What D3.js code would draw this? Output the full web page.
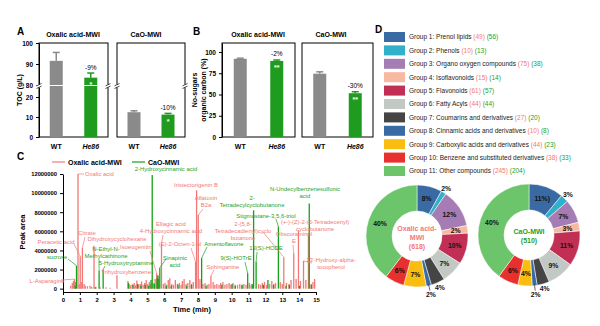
<!DOCTYPE html>
<html>
<head>
<meta charset="utf-8">
<script src="https://cdn.jsdelivr.net/npm/d3@7"></script>
<style>
body { margin: 0; background: #fff; }
svg { display: block; font-family: "Liberation Sans", Arial, sans-serif; }
</style>
</head>
<body>
<svg id="fig" width="600" height="326"></svg>
<script>
// ---- data ----
var groupsAB = ["WT", "He86"];

// panel A: TOC (g/L)
var tocOxalic = [91.5, 83.5];
var tocOxalicErr = [4.0, 2.2];
var tocCaO = [12.4, 11.2];
var tocCaOErr = [0.7, 0.6];
var tocTicks = [0, 10, 20, 80, 90, 100];

// panel B: no-sugars organic carbon (%)
var nsOxalic = [92.0, 89.5];
var nsOxalicErr = [0.7, 1.1];
var nsCaO = [74.5, 51.5];
var nsCaOErr = [2.2, 1.8];
var nsTicks = [0, 25, 50, 75, 100];

// panel C: peaks [time (min), peak area]
var oxalicPeaks = [
  [0.45, 0.3e6], [0.55, 0.6e6], [0.62, 0.8e6], [0.68, 1.0e6], [0.74, 0.7e6],
  [0.89, 12.0e6], [0.96, 0.5e6], [1.02, 3.4e6], [1.08, 0.7e6], [1.15, 4.3e6],
  [1.25, 0.5e6], [1.32, 0.3e6], [1.45, 0.25e6], [1.6, 0.3e6], [1.7, 0.2e6],
  [1.84, 4.5e6], [1.95, 0.2e6], [2.2, 0.15e6], [2.55, 0.15e6], [2.8, 0.1e6],
  [3.2, 1.4e6], [3.85, 0.8e6], [3.92, 0.5e6], [4.0, 0.35e6], [4.1, 0.45e6],
  [4.22, 0.6e6], [4.3, 0.35e6], [4.38, 0.85e6], [4.48, 0.45e6], [4.58, 0.5e6],
  [4.66, 0.75e6], [4.75, 0.4e6], [4.84, 0.6e6], [4.93, 0.9e6], [5.02, 0.5e6],
  [5.12, 0.7e6], [5.2, 0.45e6], [5.38, 0.6e6], [5.46, 1.0e6], [5.55, 1.6e6],
  [5.62, 1.3e6], [5.84, 4.7e6], [5.95, 0.5e6], [6.05, 0.6e6], [6.15, 0.4e6],
  [6.24, 0.9e6], [6.33, 1.1e6], [6.45, 0.5e6], [6.55, 0.4e6], [6.66, 0.9e6],
  [6.78, 0.5e6], [6.9, 0.6e6], [7.0, 0.4e6], [7.08, 0.8e6], [7.18, 1.0e6],
  [7.3, 0.5e6], [7.4, 0.6e6], [7.52, 0.9e6], [7.62, 0.5e6], [7.72, 0.7e6],
  [7.86, 2.8e6], [7.92, 10.3e6], [8.02, 7.7e6], [8.12, 1.0e6], [8.3, 0.5e6],
  [8.42, 0.6e6], [8.55, 0.4e6], [8.65, 0.5e6], [8.77, 1.35e6], [8.9, 0.7e6],
  [9.0, 0.4e6], [9.12, 0.5e6], [9.25, 0.4e6], [9.35, 0.6e6], [9.48, 0.7e6],
  [9.6, 0.4e6], [9.72, 0.5e6], [9.85, 0.6e6], [9.95, 0.4e6], [10.08, 0.6e6],
  [10.2, 0.4e6], [10.35, 0.4e6], [10.48, 0.5e6], [10.6, 0.35e6], [10.72, 0.5e6],
  [10.85, 0.4e6], [11.05, 0.6e6], [11.15, 0.4e6], [11.6, 0.5e6], [11.72, 0.4e6],
  [11.82, 0.6e6], [11.95, 0.7e6], [12.08, 0.4e6], [12.25, 0.5e6], [12.38, 0.8e6],
  [12.5, 0.5e6], [12.6, 0.6e6], [12.88, 0.7e6], [13.0, 0.5e6], [13.09, 3.3e6],
  [13.25, 0.6e6], [13.4, 0.5e6], [13.52, 0.9e6], [13.68, 3.7e6], [13.82, 1.0e6],
  [13.96, 6.1e6], [14.08, 0.8e6], [14.26, 2.9e6], [14.4, 0.9e6], [14.55, 5.8e6],
  [14.72, 0.5e6], [14.82, 0.7e6], [14.92, 1.0e6]
];
var caoPeaks = [
  [0.72, 0.3e6], [0.8, 2.4e6], [1.9, 0.15e6], [2.14, 1.9e6], [2.38, 2.0e6],
  [3.88, 0.6e6], [4.15, 0.4e6], [4.42, 0.5e6], [4.62, 0.3e6], [4.88, 0.4e6],
  [5.08, 0.3e6], [5.22, 0.9e6], [5.29, 11.9e6], [5.42, 0.5e6], [5.58, 1.1e6],
  [5.63, 1.4e6], [5.68, 1.0e6], [5.74, 2.2e6], [6.12, 0.3e6], [6.42, 0.3e6],
  [6.82, 0.4e6], [7.32, 0.3e6], [7.62, 0.4e6], [8.22, 3.2e6], [8.48, 0.3e6],
  [9.42, 0.4e6], [10.02, 0.5e6], [10.22, 0.3e6], [10.62, 0.4e6], [10.95, 1.6e6],
  [11.22, 0.5e6], [11.3, 8.2e6], [11.45, 2.85e6], [11.88, 0.4e6], [12.15, 0.9e6],
  [12.48, 0.4e6], [12.77, 6.5e6], [13.22, 0.3e6], [13.42, 0.4e6], [14.02, 0.3e6],
  [14.6, 8.9e6], [14.72, 0.4e6]
];
var peakTicks = [0, 2e6, 4e6, 6e6, 8e6, 10e6, 12e6];

// panel D: compound groups and counts
var groupNames = ["Prenol lipids", "Phenols", "Organo oxygen compounds", "Isoflavonoids",
  "Flavonoids", "Fatty Acyls", "Coumarins and derivatives", "Cinnamic acids and derivatives",
  "Carboxylic acids and derivatives", "Benzene and substituted derivatives", "Other compounds"];
var countOxalic = [49, 10, 75, 15, 61, 44, 27, 10, 44, 38, 245];
var countCaO = [56, 13, 38, 14, 57, 44, 20, 8, 23, 33, 204];
var pctOxalic = ["8%", "2%", "12%", "2%", "10%", "7%", "4%", "2%", "7%", "6%", "40%"];
var pctCaO = ["11%)", "3%", "7%", "3%", "11%", "9%", "4%", "2%", "4%", "6%", "40%"];

// ---- styles ----
var GRAY = "#8a8a8a", GREEN = "#1f9b1f";
var SALMON = "#f27878", LGREEN = "#1e9f2a";
var groupColors = ["#3a6aa3", "#31b0c9", "#a57cb4", "#f7b9a1", "#c12f55", "#c2c8c4",
  "#454545", "#3a6aa3", "#f8bd10", "#e8302e", "#6cc46b"];

var svg = d3.select("#fig");

function txt(g, x, y, s, size, opt) {
  opt = opt || {};
  return g.append("text").attr("x", x).attr("y", y).text(s)
    .attr("font-size", size)
    .attr("font-weight", opt.weight || "normal")
    .attr("font-style", opt.style || "normal")
    .attr("text-anchor", opt.anchor || "middle")
    .attr("fill", opt.fill || "#000");
}

function styleAxis(a, size) {
  a.selectAll("path, line").attr("stroke", "#000").attr("stroke-width", 1);
  a.selectAll("text").attr("font-size", size).attr("font-weight", "bold")
    .attr("font-family", "Liberation Sans, Arial, sans-serif");
}

// a pair of bars with error bars inside a framed box
function barPanel(x0, x1, y, vals, errs, notes, stars) {
  var g = svg.append("g");
  var x = d3.scalePoint().domain(groupsAB).range([x0, x1]).padding(0.5);
  g.append("rect").attr("x", x0).attr("y", 43).attr("width", x1 - x0).attr("height", 94)
    .attr("fill", "none").attr("stroke", "#000").attr("stroke-width", 1);
  groupsAB.forEach(function(k, i) {
    var cx = x(k), col = i ? GREEN : GRAY;
    var top = y(vals[i] + errs[i]);
    g.append("line").attr("x1", cx).attr("x2", cx).attr("y1", y(vals[i])).attr("y2", top)
      .attr("stroke", col).attr("stroke-width", 1.5);
    g.append("line").attr("x1", cx - 3.5).attr("x2", cx + 3.5).attr("y1", top).attr("y2", top)
      .attr("stroke", col).attr("stroke-width", 1.5);
    g.append("rect").attr("x", cx - 6.5).attr("y", y(vals[i])).attr("width", 13)
      .attr("height", y(0) - y(vals[i])).attr("fill", col);
    if (notes[i]) txt(g, cx, top - 3.5, notes[i], 6.5);
    if (stars[i]) txt(g, cx, y(vals[i]) + 9, stars[i], 7, {fill: "#fff", weight: "bold"});
    txt(g, cx, 149, k, 7, {weight: "bold", style: i ? "italic" : "normal"});
  });
  return g;
}

function breakMark(x, y) {
  svg.append("rect").attr("x", x - 2.5).attr("y", y - 1.5).attr("width", 5).attr("height", 3).attr("fill", "#fff");
  [-1.3, 1.3].forEach(function(d) {
    svg.append("line").attr("x1", x - 2.5).attr("x2", x + 2.5).attr("y1", y + d + 1.2).attr("y2", y + d - 1.2)
      .attr("stroke", "#000").attr("stroke-width", 0.7);
  });
}

// ---- panel A ----
var yA = d3.scaleLinear().domain([0, 20, 80, 100]).range([137, 97, 85, 43]);
barPanel(39, 108, yA, tocOxalic, tocOxalicErr, ["", "-9%"], ["", "*"]);
barPanel(117, 185, yA, tocCaO, tocCaOErr, ["", "-10%"], ["", "*"]);
svg.append("line").attr("x1", 40).attr("x2", 107).attr("y1", yA(80) + 0.5).attr("y2", yA(80) + 0.5)
  .attr("stroke", "#fff").attr("stroke-width", 1.2);
var axA = svg.append("g").attr("transform", "translate(39,0)")
  .call(d3.axisLeft(yA).tickValues(tocTicks).tickSize(3).tickSizeOuter(0));
styleAxis(axA, 6.5);
[39, 108, 117, 185].forEach(function(x) { breakMark(x, yA(80) + 1); });
txt(svg, 17, 35, "A", 10, {weight: "bold", anchor: "start"});
txt(svg, 73, 37, "Oxalic acid-MWI", 7, {weight: "bold"});
txt(svg, 146, 37, "CaO-MWI", 7, {weight: "bold"});
txt(svg, 0, 0, "TOC (g/L)", 7, {weight: "bold"}).attr("transform", "translate(22,90) rotate(-90)");

// ---- panel B ----
var yB = d3.scaleLinear().domain([0, 110.6]).range([137, 43]);
barPanel(222, 295, yB, nsOxalic, nsOxalicErr, ["", "-2%"], ["", "**"]);
barPanel(302, 373, yB, nsCaO, nsCaOErr, ["", "-30%"], ["", "**"]);
var axB = svg.append("g").attr("transform", "translate(222,0)")
  .call(d3.axisLeft(yB).tickValues(nsTicks).tickSize(3).tickSizeOuter(0));
styleAxis(axB, 6.5);
txt(svg, 193, 35, "B", 10, {weight: "bold", anchor: "start"});
txt(svg, 258, 37, "Oxalic acid-MWI", 7, {weight: "bold"});
txt(svg, 331, 37, "CaO-MWI", 7, {weight: "bold"});
var yl = txt(svg, 0, 0, "", 7, {weight: "bold"}).attr("transform", "translate(197,90) rotate(-90)");
yl.append("tspan").attr("x", 0).attr("dy", 0).text("No-sugars");
yl.append("tspan").attr("x", 0).attr("dy", 8.5).text("organic carbon (%)");

// ---- panel C ----
var xC = d3.scaleLinear().domain([0, 15]).range([63, 316]);
var yC = d3.scaleLinear().domain([-0.35e6, 12e6]).range([292, 174]);
var gC = svg.append("g");
function drawPeaks(data, color) {
  gC.selectAll(null).data(data).enter().append("line")
    .attr("x1", function(d) { return xC(d[0]); })
    .attr("x2", function(d) { return xC(d[0]); })
    .attr("y1", yC(0))
    .attr("y2", function(d) { return yC(d[1]); })
    .attr("stroke", color).attr("stroke-width", 1.3);
}
drawPeaks(oxalicPeaks, SALMON);
drawPeaks(caoPeaks, "#18a018");

var axCx = svg.append("g").attr("transform", "translate(0,292)")
  .call(d3.axisBottom(xC).ticks(15).tickSize(3).tickSizeOuter(0));
styleAxis(axCx, 6);
var axCy = svg.append("g").attr("transform", "translate(63,0)")
  .call(d3.axisLeft(yC).tickValues(peakTicks).tickFormat(d3.format("d")).tickSize(3).tickSizeOuter(0));
styleAxis(axCy, 5.8);
txt(svg, 17, 160, "C", 10, {weight: "bold", anchor: "start"});
txt(svg, 192, 312, "Time (min)", 7.5, {weight: "bold"});
txt(svg, 0, 0, "Peak area", 7.5, {weight: "bold"}).attr("transform", "translate(25,232) rotate(-90)");

// legend
svg.append("line").attr("x1", 52).attr("x2", 65).attr("y1", 162).attr("y2", 162).attr("stroke", SALMON).attr("stroke-width", 1.2);
txt(svg, 68, 164.5, "Oxalic acid-MWI", 7, {weight: "bold", anchor: "start"});
svg.append("line").attr("x1", 132).attr("x2", 145).attr("y1", 162).attr("y2", 162).attr("stroke", "#18a018").attr("stroke-width", 1.2);
txt(svg, 148, 164.5, "CaO-MWI", 7, {weight: "bold", anchor: "start"});

// annotations: label layout (pixels) and the peak each one points to
var notesC = [
  {s: "ox", t: 0.89, lines: ["Oxalic acid"], x: 85, y: 176, a: "start", from: [84, 174]},
  {s: "ox", t: 1.15, lines: ["Citrate"], x: 87, y: 235, from: [85, 237]},
  {s: "ox", t: 1.02, lines: ["Peracetic acid"], x: 56, y: 244, from: [74, 244]},
  {s: "ox", t: 1.84, lines: ["Dihydroxycyclohexane"], x: 117, y: 241},
  {s: "ox", t: 0.68, lines: ["L-Asparagine"], x: 47, y: 283, from: [61, 280]},
  {s: "ox", t: 3.2, lines: ["Trihydroxybenzene"], x: 126, y: 274},
  {s: "ox", t: 5.55, lines: ["Isoeugenitin"], x: 136, y: 249, from: [150, 251]},
  {s: "ox", t: 5.84, lines: ["Ellagic acid", "4-Hydroxycinnamic acid"], x: 171, y: 226, from: [163, 235]},
  {s: "ox", t: 7.86, lines: ["(E)-2-Octen-1-ol"], x: 180, y: 246, from: [191, 248]},
  {s: "ox", t: 7.92, lines: ["Iristectorigenin B"], x: 196, y: 187},
  {s: "ox", t: 8.02, lines: ["Aflatoxin", "B2a"], x: 206, y: 200, from: [203, 209]},
  {s: "ox", t: 8.77, lines: ["Sphinganine"], x: 223, y: 269, from: [214, 270]},
  {s: "ox", t: 13.09, lines: ["2-(5,8-", "Tetradecadienyl)cyclo", "butanone"], x: 243, y: 226, from: [263, 232]},
  {s: "ox", t: 13.96, lines: ["(+-)-(Z)-2-(5-Tetradecenyl)", "cyclobutanone"], x: 315, y: 224},
  {s: "ox", t: 13.68, lines: ["Obscuraminol", "E"], x: 294, y: 236, from: [293, 245]},
  {s: "ox", t: 14.26, lines: ["13'-Hydroxy-alpha-", "tocopherol"], x: 331, y: 262, from: [312, 263]},
  {s: "cao", t: 5.29, lines: ["2-Hydroxycinnamic acid"], x: 166, y: 171},
  {s: "cao", t: 0.8, lines: ["sucrose"], x: 57, y: 259, from: [68, 259]},
  {s: "cao", t: 2.14, lines: ["N-Ethyl-N-", "Methylcathinone"], x: 106, y: 251, from: [99, 259]},
  {s: "cao", t: 2.38, lines: ["5-Hydroxytryptamine"], x: 126, y: 265, from: [105, 266]},
  {s: "cao", t: 5.74, lines: ["Sinapinic", "acid"], x: 175, y: 260, from: [166, 259]},
  {s: "cao", t: 8.22, lines: ["Amentoflavone"], x: 224, y: 246, from: [207, 247]},
  {s: "cao", t: 10.95, lines: ["9(S)-HOTrE"], x: 236, y: 260, from: [245, 262]},
  {s: "cao", t: 11.45, lines: ["13(S)-HODE"], x: 266, y: 250, from: [257, 252]},
  {s: "cao", t: 11.3, lines: ["2-", "Tetradecylcyclobutanone"], x: 252, y: 200},
  {s: "cao", t: 12.77, lines: ["Stigmastane-3,5,6-triol"], x: 266, y: 218, from: [276, 219]},
  {s: "cao", t: 14.6, lines: ["N-Undecylbenzenesulfonic", "acid"], x: 305, y: 191}
];
notesC.forEach(function(n) {
  var col = n.s === "ox" ? SALMON : LGREEN;
  var src = n.s === "ox" ? oxalicPeaks : caoPeaks;
  var pk = src.find(function(d) { return d[0] === n.t; });
  if (n.from && pk) {
    svg.append("line").attr("x1", n.from[0]).attr("y1", n.from[1])
      .attr("x2", xC(pk[0])).attr("y2", yC(pk[1]))
      .attr("stroke", col).attr("stroke-width", 0.7);
  }
  var t = txt(svg, n.x, n.y, "", 5.9, {fill: col, anchor: n.a || "middle"});
  n.lines.forEach(function(l, i) {
    t.append("tspan").attr("x", n.x).attr("dy", i ? 7 : 0).text(l);
  });
});

// ---- panel D ----
txt(svg, 375, 33, "D", 10, {weight: "bold", anchor: "start"});
var gL = svg.append("g");
groupNames.forEach(function(name, i) {
  var y = 37 + i * 13.4;
  gL.append("rect").attr("x", 384).attr("y", y - 5).attr("width", 21).attr("height", 10).attr("fill", groupColors[i]);
  var t = txt(gL, 409, y + 2.3, "", 6.5, {anchor: "start", fill: "#222"});
  t.append("tspan").text("Group " + (i + 1) + ": " + name + " ");
  t.append("tspan").attr("fill", SALMON).text("(" + countOxalic[i] + ")");
  t.append("tspan").text(" ");
  t.append("tspan").attr("fill", LGREEN).text("(" + countCaO[i] + ")");
});

var pie = d3.pie().sort(null).value(function(d) { return d; });
var arc = d3.arc().innerRadius(25).outerRadius(51);
var outsideIdx = [1, 6, 7];
function donut(cx, cy, counts, pcts, title, color) {
  var g = svg.append("g").attr("transform", "translate(" + cx + "," + cy + ")");
  var arcs = pie(counts);
  g.selectAll(null).data(arcs).enter().append("path")
    .attr("d", arc)
    .attr("fill", function(d, i) { return groupColors[i]; })
    .attr("stroke", "#fff").attr("stroke-width", 0.5);
  arcs.forEach(function(d, i) {
    var a = (d.startAngle + d.endAngle) / 2;
    var out = outsideIdx.indexOf(i) >= 0;
    var r = out ? (i === 7 ? 60 : 56) : 39;
    if (i === 7) {
      g.append("line").attr("x1", Math.sin(a) * 50).attr("y1", -Math.cos(a) * 50)
        .attr("x2", Math.sin(a) * 56).attr("y2", -Math.cos(a) * 56)
        .attr("stroke", "#000").attr("stroke-width", 0.6);
    }
    txt(g, Math.sin(a) * r, -Math.cos(a) * r + 2.5, pcts[i], 6.8, {weight: "bold", fill: "#111"});
  });
  title.forEach(function(l, i) {
    txt(g, 0, -5 + i * 9 + (title.length === 2 ? 4 : 0), l, 7, {weight: "bold", fill: color});
  });
}
donut(417, 236, countOxalic, pctOxalic, ["Oxalic acid-", "MWI", "(618)"], SALMON);
donut(529, 235, countCaO, pctCaO, ["CaO-MWI", "(510)"], LGREEN);
</script>
</body>
</html>
